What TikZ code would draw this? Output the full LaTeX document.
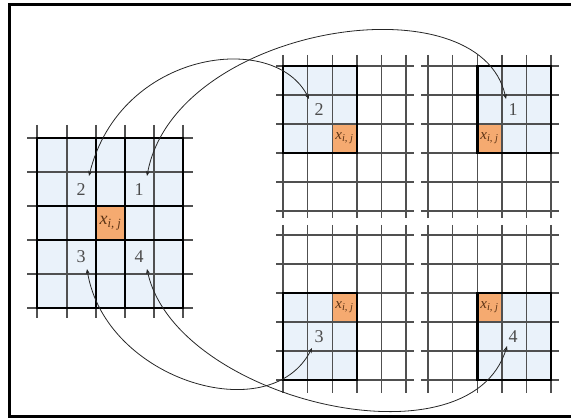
\documentclass[tikz,border=0pt]{standalone}
\usepackage{fontspec}
\setmainfont{Liberation Serif}
\usetikzlibrary{arrows.meta}
\definecolor{cellblue}{RGB}{234,242,250}
\definecolor{xorange}{RGB}{245,170,112}
\definecolor{gridgray}{RGB}{80,80,80}
\definecolor{xbrown}{RGB}{90,50,20}
\tikzset{
  gridline/.style={draw=gridgray, line width=1.4pt},
  block/.style={draw=black, line width=2.6pt},
  frame/.style={draw=black, line width=2.6pt},
  numlabel/.style={font=\rmfamily\fontsize{18}{18}\selectfont, text=black!70, inner sep=0pt},
  bigx/.style={font=\rmfamily\fontsize{18}{18}\selectfont\itshape, text=xbrown, inner sep=0pt},
  smallx/.style={font=\rmfamily\fontsize{15}{15}\selectfont\itshape, text=xbrown, inner sep=0pt},
  link/.style={{Stealth[length=5pt,width=4pt]}-{Stealth[length=5pt,width=4pt]},
               line width=0.8pt, draw=black!85}
}
\newcommand{\xij}{x\textsubscript{i, j}}

\begin{document}
\begin{tikzpicture}[x=1pt, y=-1pt]
\useasboundingbox (0,0) rectangle (571,419);
\draw[frame] (9.5,4.5) rectangle (576,416.5);

\fill[cellblue] (37,138) rectangle (183,308);
\fill[xorange] (96,206) rectangle (125,240);
\foreach \x in {37,67,96,125,154,183}
  \draw[gridline] (\x,125) -- (\x,318);
\foreach \y in {138,172,206,240,274,308}
  \draw[gridline] (27,\y) -- (193,\y);
\foreach \a/\b/\c/\d in {37/138/125/240, 96/138/183/240, 37/206/125/308, 96/206/183/308}
  \draw[block] (\a,\b) rectangle (\c,\d);

\fill[cellblue] (283,66) rectangle (356.8,153);
\fill[cellblue] (477.2,66) rectangle (551,153);
\fill[cellblue] (283,293) rectangle (356.8,380);
\fill[cellblue] (477.2,293) rectangle (551,380);
\fill[xorange] (332.2,124) rectangle (356.8,153);
\fill[xorange] (477.2,124) rectangle (501.8,153);
\fill[xorange] (332.2,293) rectangle (356.8,322);
\fill[xorange] (477.2,293) rectangle (501.8,322);

\foreach \xo/\ya/\yb/\yo in {283/55/218/66, 428/55/218/66, 283/225/393/235, 428/225/393/235}{
  \foreach \i in {0,...,5}
    \draw[gridline] ({\xo+\i*24.6},\ya) -- ({\xo+\i*24.6},\yb);
  \foreach \j in {0,...,5}
    \draw[gridline] ({\xo-7},{\yo+\j*29}) -- ({\xo+131},{\yo+\j*29});
}
\draw[block] (283,66) rectangle (356.8,153);
\draw[block] (477.2,66) rectangle (551,153);
\draw[block] (283,293) rectangle (356.8,380);
\draw[block] (477.2,293) rectangle (551,380);

\node[bigx] (xL) at (110.5,223) {\xij};
\node[smallx] (xTL) at (344.5,138.5) {\xij};
\node[smallx] (xTR) at (489.5,138.5) {\xij};
\node[smallx] (xBL) at (344.5,307.5) {\xij};
\node[smallx] (xBR) at (489.5,307.5) {\xij};

\node[numlabel] (lab2L) at (81,190) {2};
\node[numlabel] (lab1L) at (139,190) {1};
\node[numlabel] (lab3L) at (81,257) {3};
\node[numlabel] (lab4L) at (139,257) {4};
\node[numlabel] (lab2R) at (319,110) {2};
\node[numlabel] (lab1R) at (513,110) {1};
\node[numlabel] (lab3R) at (319,337) {3};
\node[numlabel] (lab4R) at (513,337) {4};

\coordinate (t2L) at (89,176);
\coordinate (t1L) at (147,176);
\coordinate (t3L) at (87,269);
\coordinate (t4L) at (147,269);
\coordinate (t2R) at (309,99);
\coordinate (t1R) at (506,99);
\coordinate (t3R) at (312,348);
\coordinate (t4R) at (507,346);

\draw[link] (t2L) .. controls (120,50) and (275,30) .. (t2R);
\draw[link] (t1L) .. controls (175,25) and (480,-22) .. (t1R);
\draw[link] (t3L) .. controls (105,380) and (270,430) .. (t3R);
\draw[link] (t4L) .. controls (175,400) and (470,470) .. (t4R);
\end{tikzpicture}
\end{document}
